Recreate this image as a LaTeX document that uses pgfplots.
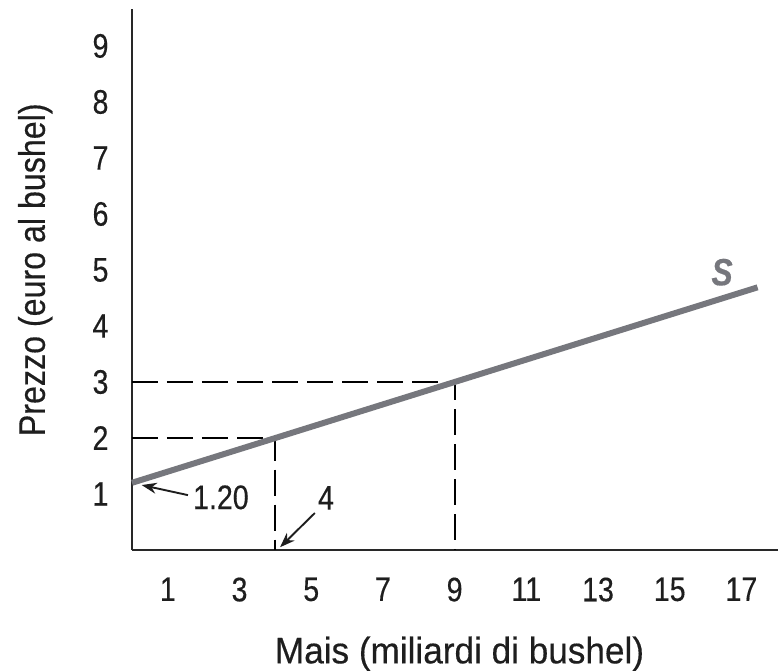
\documentclass[border=0pt]{standalone}
\usepackage{fontspec}
\setmainfont{Liberation Sans}[FakeStretch=0.84,FakeBold=0.35]
\newfontfamily\xlabfont{Liberation Sans}[FakeStretch=0.95,FakeBold=0.35]
\newfontfamily\ylabfont{Liberation Sans}[FakeStretch=0.87,FakeBold=0.35]
\usepackage{pgfplots}
\pgfplotsset{compat=1.18}
\usetikzlibrary{arrows.meta}
\definecolor{sgray}{RGB}{118,119,125}
\definecolor{axgray}{RGB}{40,40,40}
\definecolor{txt}{RGB}{30,30,30}
\begin{document}
\begin{tikzpicture}[x=1pt,y=1pt]
\useasboundingbox (-132pt,-120pt) rectangle (646pt,550pt);
\begin{axis}[
  anchor=south west, at={(0pt,0pt)},
  scale only axis,
  width=646pt, height=541pt,
  xmin=0, xmax=18.02, ymin=0, ymax=9.66,
  axis x line=bottom, axis y line=left,
  axis line style={axgray, line width=1.8pt, -},
  xtick={1,3,5,7,9,11,13,15,17},
  ytick={1,2,3,4,5,6,7,8,9},
  major tick length=0pt,
  tick label style={font=\fontsize{34}{36}\selectfont, text=txt},
  /pgf/number format/assume math mode=true,
  xticklabel style={anchor=north, yshift=-24pt},
  yticklabel style={anchor=east, xshift=-20pt},
  xlabel={Mais (miliardi di bushel)},
  ylabel={Prezzo (euro al bushel)},
  xlabel style={font=\xlabfont\fontsize{37}{40}\selectfont, text=txt, at={(axis description cs:0.507,0)}, anchor=north, yshift=-83pt},
  ylabel style={font=\ylabfont\fontsize{37}{40}\selectfont, text=txt, at={(axis description cs:-0.1176,0.518)}, anchor=south},
  clip=false,
]
\addplot[black, line width=2pt, dash pattern=on 26pt off 9pt] coordinates {(0,3) (9,3) (9,0)};
\addplot[black, line width=2pt, dash pattern=on 26pt off 9pt] coordinates {(0,2) (4,2) (4,0)};
\addplot[sgray, line width=6pt] coordinates {(0,1.2) (17.45,4.69)};
\node[text=sgray, font=\fontsize{38}{40}\selectfont\bfseries\itshape] at (axis cs:16.46,4.96) {S};
\node[font=\fontsize{34}{36}\selectfont, text=txt] at (axis cs:2.48,0.94) {1.20};
\draw[-{Stealth[length=15pt,width=11pt]}, line width=1.9pt, txt] (axis cs:1.56,0.98) -- (axis cs:0.27,1.16);
\node[font=\fontsize{34}{36}\selectfont, text=txt] at (axis cs:5.41,0.93) {4};
\draw[-{Stealth[length=15pt,width=11pt]}, line width=1.9pt, txt] (axis cs:5.10,0.66) -- (axis cs:4.13,0.05);
\end{axis}
\end{tikzpicture}
\end{document}
